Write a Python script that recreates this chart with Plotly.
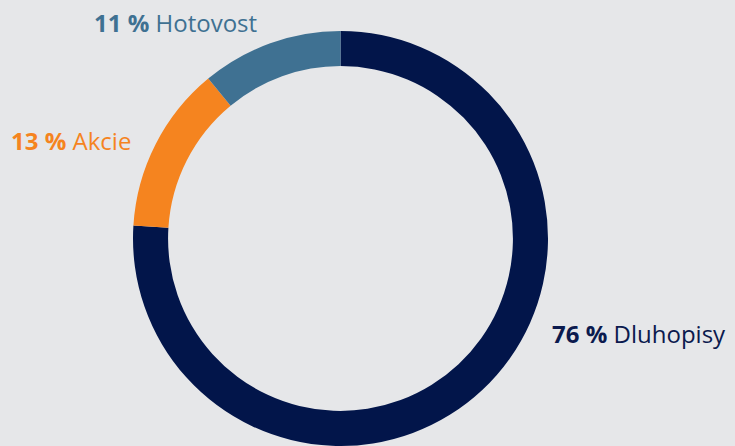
import plotly.graph_objects as go

labels = ["Dluhopisy", "Akcie", "Hotovost"]
values = [76, 13, 11]
colors = ["#02154A", "#F5841F", "#3F7192"]
text_colors = ["#0B1A4E", "#F5841F", "#3F7192"]

W, H = 735, 446
# label anchor positions (pixels from top-left)
label_pos = [(550, 333), (9, 140), (92, 22)]

fig = go.Figure()
fig.add_trace(go.Pie(
    labels=labels, values=values, sort=False, direction="clockwise", rotation=0,
    hole=0.831, textinfo="none", hoverinfo="label+percent",
    marker=dict(colors=colors, line=dict(width=0)),
    domain=dict(x=[(340.5 - 207.5) / W, (340.5 + 207.5) / W], y=[0, 415 / H]),
    showlegend=False,
))

annotations = []
for lab, val, col, (px, py) in zip(labels, values, text_colors, label_pos):
    annotations.append(dict(
        x=px / W, y=1 - py / H, xref="paper", yref="paper",
        xanchor="left", yanchor="middle", showarrow=False,
        text=f"<b>{val} %</b> {lab}",
        font=dict(family="Open Sans", size=24, color=col),
    ))

fig.update_layout(
    width=W, height=H, margin=dict(l=0, r=0, t=0, b=0),
    paper_bgcolor="#E6E7E9", plot_bgcolor="#E6E7E9",
    annotations=annotations,
)
fig.write_html("out.html", config={"displayModeBar": False},
               post_script="document.body.style.margin='0px';document.body.style.overflow='hidden';")
